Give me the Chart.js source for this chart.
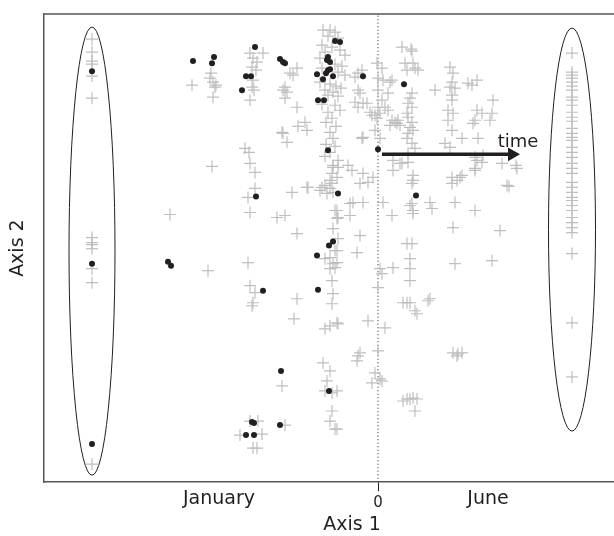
<!DOCTYPE html>
<html>
<head>
<meta charset="utf-8">
<script src="https://cdn.jsdelivr.net/npm/chart.js@4/dist/chart.umd.min.js"></script>
<style>
  html, body { margin: 0; padding: 0; background: #fff; overflow: hidden; }
  #wrap { width: 614px; height: 536px; overflow: hidden; }
</style>
</head>
<body>
<div id="wrap"><canvas id="chart" width="660" height="536"></canvas></div>
<script>
// x: axis 1 score (0 = dotted line), y: axis 2 score
const tickValues = [-159, 0, 110];
const tickLabels = ['January', '0', 'June'];

// samples shown as filled dots
const dotPoints = [
  [-286, 410], [-286, 218], [-286, 38],
  [-185, 420], [-164, 424], [-166, 418], [-123, 434], [-132, 405], [-127, 405], [-136, 391],
  [-98, 422], [-95, 419], [-93, 418],
  [-61, 407], [-60, 381], [-54, 381], [-55, 402], [-52, 408], [-50, 411], [-48, 412],
  [-51, 421], [-50, 424], [-48, 419], [-45, 405], [-43, 440], [-38, 439], [-50, 331],
  [-15, 405], [26, 397], [0, 332], [-40, 288], [38, 286], [-45, 240], [-49, 236], [-61, 226],
  [-122, 285], [-210, 220], [-207, 216], [-115, 191], [-60, 192],
  [-97, 111], [-49, 91], [-126, 60], [-124, 59], [-132, 47], [-124, 47], [-98, 57]
];

// samples shown as crosses
const crossPoints = [
  // left group
  [-286, 442], [-286, 429], [-286, 420], [-286, 417], [-286, 405], [-286, 383], [-286, 244],
  [-286, 239], [-286, 237], [-286, 233], [-286, 213], [-286, 199], [-286, 18],
  // right group
  [194, 428], [194, 409], [194, 406], [194, 403], [194, 399], [194, 395], [194, 391], [194, 384],
  [194, 381], [194, 376], [194, 369], [194, 364], [194, 360], [194, 353], [194, 348], [194, 344],
  [194, 341], [194, 334], [194, 329], [194, 324], [194, 318], [194, 313], [194, 308], [194, 299],
  [194, 294], [194, 289], [194, 284], [194, 281], [194, 276], [194, 271], [194, 264], [194, 259],
  [194, 254], [194, 249], [194, 228], [194, 159], [194, 105],
  // upper left clusters
  [-186, 396], [-167, 408], [-168, 403], [-165, 399], [-162, 396], [-163, 394], [-165, 384],
  [-128, 428], [-125, 423], [-121, 419], [-126, 414], [-122, 411], [-125, 401], [-126, 394],
  [-124, 391], [-128, 381], [-115, 428], [-88, 408], [-81, 413], [-85, 406], [-93, 394],
  [-95, 391], [-91, 389], [-93, 383], [-81, 374], [-96, 349], [-95, 348], [-91, 339], [-80, 355],
  [-71, 351], [-133, 333], [-129, 329], [-128, 318], [-166, 315], [-73, 359],
  // dense column left of zero
  [-55, 451], [-48, 451], [-43, 449], [-50, 445], [-40, 443], [-56, 436], [-46, 434], [-38, 431],
  [-53, 429], [-33, 426], [-58, 423], [-43, 417], [-36, 415], [-56, 413], [-40, 409], [-33, 406],
  [-58, 399], [-48, 397], [-42, 395], [-37, 393], [-53, 391], [-45, 389], [-50, 386], [-40, 385],
  [-56, 377], [-43, 376], [-38, 371], [-50, 369], [-46, 363], [-52, 359], [-42, 355], [-48, 349],
  [-45, 343], [-52, 337], [-43, 335], [-48, 329], [-53, 325], [-40, 321], [-45, 316],
  // around zero, upper part
  [-20, 408], [-23, 404], [-20, 391], [-18, 388], [-20, 374], [-11, 378], [-8, 369], [-3, 366],
  [-1, 363], [-1, 418], [0, 403], [0, 391], [4, 413], [14, 401], [7, 374], [10, 371], [14, 361],
  [17, 359], [20, 361], [12, 356], [-3, 351], [2, 343], [-16, 343], [5, 401], [12, 399],
  [-16, 411], [-23, 379], [-15, 378], [-6, 366], [2, 368], [0, 374], [4, 381], [10, 388],
  [19, 358], [22, 356], [15, 321], [22, 318], [-15, 344],
  // column right of zero
  [24, 434], [27, 418], [29, 411], [35, 418], [37, 413], [40, 411], [33, 432], [34, 430],
  [34, 388], [32, 383], [30, 378], [34, 374], [29, 368], [30, 364], [34, 359], [32, 354],
  [30, 348], [35, 351], [29, 343], [34, 338], [37, 333], [30, 328],
  // right part
  [57, 391], [72, 414], [75, 408], [74, 399], [72, 394], [77, 393], [74, 386], [74, 381],
  [70, 371], [75, 368], [70, 361], [74, 351], [67, 338], [72, 334], [90, 398], [99, 401],
  [94, 396], [115, 381], [99, 371], [104, 368], [97, 361], [95, 358], [114, 368], [112, 361],
  [100, 343], [84, 343], [105, 326], [97, 324], [129, 296], [131, 295], [124, 318], [138, 316],
  [74, 304], [79, 301], [84, 306], [99, 321], [97, 311], [122, 251], [114, 221], [77, 279],
  [97, 271], [75, 254], [77, 218], [82, 304], [97, 313], [104, 319], [139, 313],
  // middle band
  [-71, 294], [-56, 294], [-48, 301], [-30, 316], [-26, 311], [-15, 308], [-10, 299], [-5, 304],
  [-18, 298], [-40, 314], [-41, 304], [-28, 278], [-25, 279], [-15, 279], [-28, 266], [-41, 271],
  [-40, 264], [-18, 246], [-40, 243], [-21, 229], [-41, 231], [-41, 219], [5, 279], [14, 266],
  [15, 311], [24, 318], [30, 319], [35, 306], [34, 298], [35, 301], [34, 278], [32, 276],
  [35, 271], [35, 268], [29, 238], [34, 238], [32, 223], [32, 213], [32, 201], [15, 214],
  [2, 213], [4, 208], [0, 194], [52, 279], [54, 273], [74, 298], [52, 183], [25, 179],
  [29, 179], [32, 179],
  [-123, 309], [-123, 293], [-130, 284], [-128, 269], [-208, 267], [-101, 264], [-93, 266],
  [-86, 289], [-70, 294], [-58, 291], [-53, 296], [-48, 293], [-45, 289], [-51, 288], [-46, 298],
  [-46, 308], [-45, 314], [-81, 248], [-43, 271], [-41, 263], [-45, 253], [-43, 231], [-48, 224],
  [-53, 223], [-45, 218], [-48, 213], [-43, 214], [-170, 211], [-130, 219], [-46, 201], [-45, 188],
  [-128, 196], [-123, 189], [-125, 179], [-81, 183],
  // lower part
  [-126, 176], [-84, 163], [-46, 178], [-41, 159], [-48, 156], [-53, 153], [-55, 119], [-48, 111],
  [-51, 101], [-53, 91], [-46, 89], [-46, 71], [-48, 61], [-43, 53], [-96, 96], [-120, 61],
  [-128, 61], [-116, 48], [-121, 34], [-125, 34], [-138, 47], [-93, 57],
  [37, 171], [39, 168], [50, 181], [-40, 158], [-10, 161], [7, 154], [0, 131], [-18, 129],
  [-20, 126], [-21, 121], [-3, 109], [-6, 99], [2, 103], [4, 101], [-41, 91], [75, 129],
  [80, 128], [79, 126], [84, 129], [25, 81], [29, 83], [32, 83], [35, 84], [39, 83], [37, 71],
  [-41, 53]
];

// the two groups circled in the figure: centre x, centre y, half width, half height
const groupEllipses = [
  [-286, 230.5, 23, 223.5],
  [194, 252, 23.5, 201]
];

// time arrow and its label
const timeArrow = [[4, 327], [134, 327]];
const timeLabel = { text: 'time', x: 140, y: 334 };
const zeroLine = [[0, 0], [0, 467]];

const ink = '#231f20';
const fontFamily = '"DejaVu Sans", "Open Sans", sans-serif';

const extras = {
  id: 'extras',
  beforeDatasetsDraw(chart) {
    const { ctx, chartArea } = chart;
    ctx.save();
    ctx.strokeStyle = '#555';
    ctx.lineWidth = 1.5;
    ctx.beginPath();
    ctx.moveTo(chartArea.left, chartArea.top);
    ctx.lineTo(chartArea.right, chartArea.top);
    ctx.stroke();
    ctx.restore();
  },
  afterDatasetsDraw(chart) {
    const { ctx, scales } = chart;
    const xs = scales.x, ys = scales.y;
    ctx.save();
    ctx.strokeStyle = ink;
    ctx.lineWidth = 1;
    groupEllipses.forEach(([cx, cy, rx, ry]) => {
      const px = xs.getPixelForValue(cx);
      const py = ys.getPixelForValue(cy);
      const w = Math.abs(xs.getPixelForValue(cx + rx) - px);
      const h = Math.abs(ys.getPixelForValue(cy + ry) - py);
      ctx.beginPath();
      ctx.ellipse(px, py, w, h, 0, 0, Math.PI * 2);
      ctx.stroke();
    });
    ctx.fillStyle = ink;
    ctx.font = '18px ' + fontFamily;
    ctx.textAlign = 'center';
    ctx.textBaseline = 'alphabetic';
    ctx.fillText(timeLabel.text, xs.getPixelForValue(timeLabel.x), ys.getPixelForValue(timeLabel.y));
    ctx.restore();
  }
};

const toXY = (arr) => arr.map(([x, y]) => ({ x, y }));

new Chart(document.getElementById('chart'), {
  type: 'scatter',
  data: {
    datasets: [
      {
        type: 'line',
        data: toXY(timeArrow),
        borderColor: ink,
        borderWidth: 3.5,
        pointRadius: [0, 8],
        pointStyle: 'triangle',
        rotation: 90,
        pointBackgroundColor: ink,
        pointBorderWidth: 0,
        order: 0
      },
      {
        data: toXY(dotPoints),
        pointStyle: 'circle',
        pointRadius: 3,
        pointBackgroundColor: ink,
        pointBorderWidth: 0,
        order: 1
      },
      {
        data: toXY(crossPoints),
        pointStyle: 'cross',
        pointRadius: 6,
        pointBorderColor: '#bfbfbf',
        pointBorderWidth: 1.2,
        order: 2
      },
      {
        type: 'line',
        data: toXY(zeroLine),
        borderColor: ink,
        borderWidth: 1,
        borderDash: [1, 2.5],
        pointRadius: 0,
        order: 3
      }
    ]
  },
  options: {
    responsive: false,
    animation: false,
    events: [],
    layout: { autoPadding: false, padding: { top: 14, left: 0, right: 0, bottom: 0 } },
    plugins: { legend: { display: false }, tooltip: { enabled: false } },
    scales: {
      x: {
        type: 'linear',
        min: -334,
        max: 282,
        afterBuildTicks: (axis) => {
          axis.ticks = tickValues.map((v) => ({ value: v }));
        },
        ticks: {
          autoSkip: false,
          maxRotation: 0,
          padding: 3,
          color: ink,
          callback: (v, i) => tickLabels[i],
          font: (c) => (c.tick && c.tick.value === 0)
            ? { family: fontFamily, size: 15 }
            : { family: fontFamily, size: 19, lineHeight: 0.5 }
        },
        grid: {
          drawOnChartArea: false,
          drawTicks: true,
          tickLength: 9,
          tickWidth: 1,
          color: 'rgba(0,0,0,0)',
          tickColor: (c) => (c.tick && c.tick.value === 0) ? ink : 'rgba(0,0,0,0)'
        },
        border: { display: true, color: '#555', width: 1.5 },
        title: {
          display: true,
          text: 'Axis 1',
          color: ink,
          font: { family: fontFamily, size: 19 },
          padding: { top: -2, bottom: 0 }
        }
      },
      y: {
        type: 'linear',
        min: 0,
        max: 467,
        ticks: { display: false },
        grid: { display: false, drawTicks: false },
        border: { display: true, color: '#555', width: 1.5 },
        title: {
          display: true,
          text: 'Axis 2',
          color: ink,
          font: { family: fontFamily, size: 19 },
          padding: { top: 6.6, bottom: 14.6 }
        }
      }
    }
  },
  plugins: [extras]
});
</script>
</body>
</html>
